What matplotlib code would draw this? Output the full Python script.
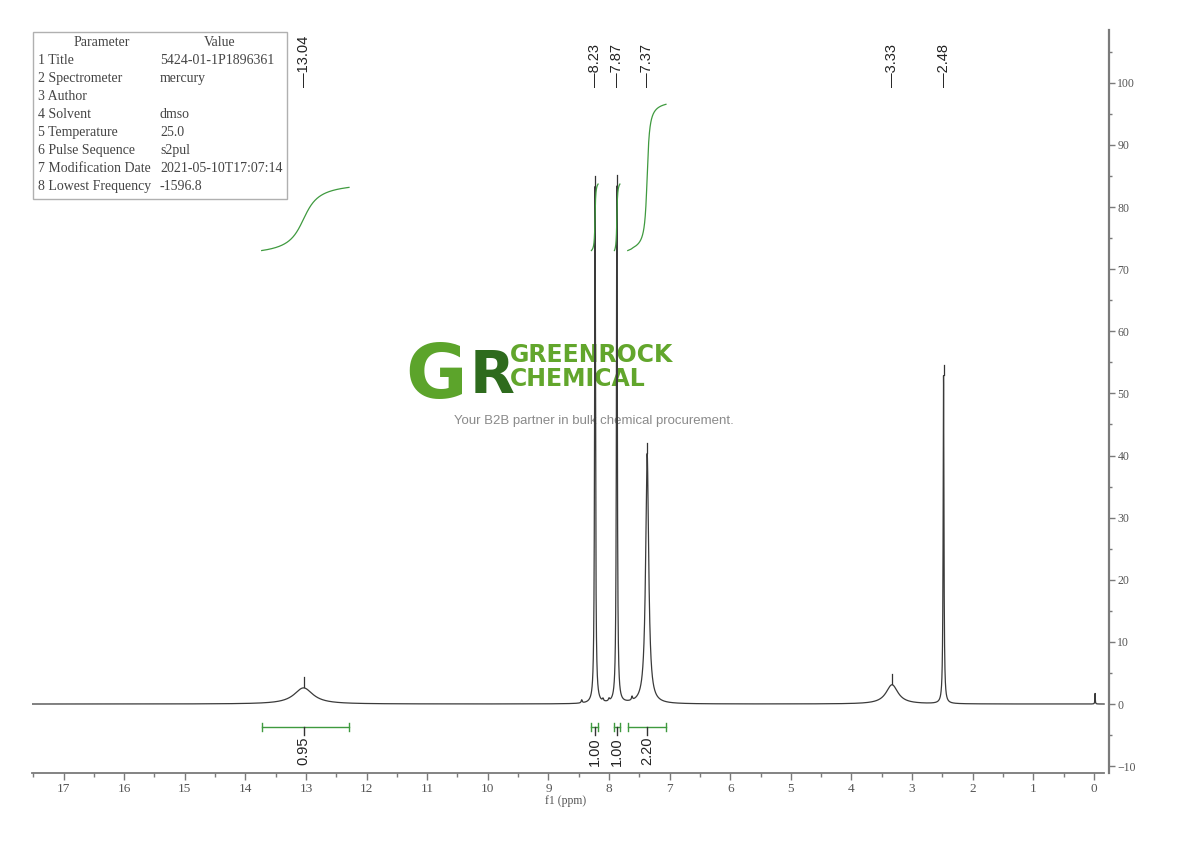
import numpy as np
import matplotlib.pyplot as plt
from matplotlib.patches import Rectangle

# ---- data ----
# peaks: position (ppm), height (right axis units), half width (ppm)
peak_ppm = [13.04, 8.23, 7.87, 7.37, 3.33, 2.48, 8.45, 8.10, 8.00, 7.62, -0.02]
peak_height = [2.6, 83.2, 83.2, 40.3, 3.1, 52.8, 0.5, 0.4, 0.4, 0.6, 1.7]
peak_hw = [0.19, 0.009, 0.009, 0.03, 0.12, 0.008, 0.01, 0.01, 0.01, 0.01, 0.004]

# picked peak labels
label_ppm = [13.04, 8.23, 7.87, 7.37, 3.33, 2.48]

# integral regions
int_from = [13.73, 8.29, 7.91, 7.69]
int_to = [12.29, 8.18, 7.82, 7.06]
int_center = [13.04, 8.23, 7.87, 7.37]
int_value = [0.95, 1.00, 1.00, 2.20]

x_ticks = list(range(0, 18))
y_ticks = list(range(-10, 101, 10))

params = ['1 Title', '2 Spectrometer', '3 Author', '4 Solvent', '5 Temperature',
          '6 Pulse Sequence', '7 Modification Date', '8 Lowest Frequency']
values = ['5424-01-1P1896361', 'mercury', '', 'dmso', '25.0', 's2pul',
          '2021-05-10T17:07:14', '-1596.8']

GREEN = '#3f9a3f'
AXIS = '#7a7a7a'
TICKTXT = '#555555'


def px(x, y):
    """pixel position in the 1190x841 picture -> figure fraction"""
    return x / 1190, 1 - y / 841


def spectrum(ppm):
    total = np.zeros_like(ppm)
    for p, h, w in zip(peak_ppm, peak_height, peak_hw):
        total += h / (1 + ((ppm - p) / w) ** 2)
    return total


fig = plt.figure(figsize=(11.9, 8.41), dpi=100)
l, b = px(32, 773)
r, t = px(1109, 30)
ax = fig.add_axes([l, b, r - l, t - b])
ax.set_xlim(17.52, -0.25)
ax.set_ylim(-11.1, 108.5)

# spectrum trace
ppm = np.linspace(17.52, -0.17, 40000)
ax.plot(ppm, spectrum(ppm), color='#3a3a3a', lw=0.9, zorder=3)

# peak pick markers and labels
for p in label_ppm:
    top = spectrum(np.array([p]))[0]
    ax.plot([p, p], [top + 0.1, top + 1.7], color='#333333', lw=0.9, zorder=3)
    ax.text(p, 99.3, '\u2014' + f'{p:.2f}', rotation=90, ha='center', va='bottom',
            fontsize=10.5, family='Liberation Sans', color='#222222')

# integral curves, bars and values
base_level = 73.0
rise_per_unit = 10.7
for a, e, c, v in zip(int_from, int_to, int_center, int_value):
    seg = np.linspace(a, e, 600)
    cum = np.cumsum(spectrum(seg))
    cum = (cum - cum[0]) / (cum[-1] - cum[0])
    ax.plot(seg, base_level + cum * v * rise_per_unit, color=GREEN, lw=0.9, zorder=4)

    ax.plot([a, e], [-3.7, -3.7], color=GREEN, lw=1.0, zorder=3)
    ax.plot([a, a], [-3.0, -4.4], color=GREEN, lw=1.0, zorder=3)
    ax.plot([e, e], [-3.0, -4.4], color=GREEN, lw=1.0, zorder=3)
    ax.plot([c, c], [-3.7, -5.0], color='#333333', lw=1.0, zorder=3)
    ax.text(c, -5.3, f'{v:.2f}', rotation=90, ha='center', va='top',
            fontsize=10.5, family='Liberation Sans', color='#222222')

# axes styling
for side in ['top', 'left']:
    ax.spines[side].set_visible(False)
ax.spines['right'].set_color(AXIS)
ax.spines['right'].set_linewidth(1.6)
ax.spines['bottom'].set_color(AXIS)
ax.spines['bottom'].set_linewidth(1.3)
ax.spines['bottom'].set_bounds(-0.17, 17.52)
ax.yaxis.tick_right()

ax.set_xticks(x_ticks)
ax.set_xticks(np.arange(0.5, 18, 1.0), minor=True)
ax.set_yticks(y_ticks)
ax.set_yticks(np.arange(-5, 106, 10), minor=True)
ax.tick_params(axis='x', which='major', direction='out', length=5, width=1,
               color=AXIS, pad=2, labelsize=9.5, labelcolor=TICKTXT)
ax.tick_params(axis='x', which='minor', direction='out', length=3, width=1, color=AXIS)
ax.tick_params(axis='y', which='major', direction='out', length=4.5, width=1,
               color=AXIS, pad=1.5, labelsize=8.5, labelcolor=TICKTXT)
ax.tick_params(axis='y', which='minor', direction='out', length=2.5, width=1, color=AXIS)
for lab in ax.get_xticklabels() + ax.get_yticklabels():
    lab.set_family('Liberation Serif')

fig.text(*px(566, 801), 'f1 (ppm)', ha='center', va='center', fontsize=8.5,
         family='Liberation Serif', color=TICKTXT)

# parameter table
fig.add_artist(Rectangle(px(33, 199), 254 / 1190, 167 / 841, transform=fig.transFigure,
                         facecolor='white', edgecolor='#b0b0b0', lw=1.0))
tbl = dict(fontsize=10, family='Liberation Serif', color='#444444', va='center')
fig.text(*px(102, 43), 'Parameter', ha='center', **tbl)
fig.text(*px(220, 43), 'Value', ha='center', **tbl)
for i, (name, val) in enumerate(zip(params, values)):
    y = 61 + i * 17.9
    fig.text(*px(38, y), name, ha='left', **tbl)
    fig.text(*px(160, y), val, ha='left', **tbl)

# watermark
wm = dict(transform=fig.transFigure, zorder=1, family='DejaVu Sans', fontweight='bold')
ax.text(*px(436, 398), 'G', fontsize=54, color='#5ca42b', ha='center', va='baseline', **wm)
ax.text(*px(470, 393), 'R', fontsize=42, color='#2e6b1d', ha='left', va='baseline', **wm)
ax.text(*px(510, 362), 'GREENROCK', fontsize=17, color='#62a62c', ha='left', va='baseline', **wm)
ax.text(*px(510, 386), 'CHEMICAL', fontsize=17, color='#62a62c', ha='left', va='baseline', **wm)
ax.text(*px(594, 421), 'Your B2B partner in bulk chemical procurement.', fontsize=9.5,
        color='#8a8a8a', ha='center', va='center', transform=fig.transFigure, zorder=1,
        family='Liberation Sans')

fig.savefig('out.png', dpi=100)
